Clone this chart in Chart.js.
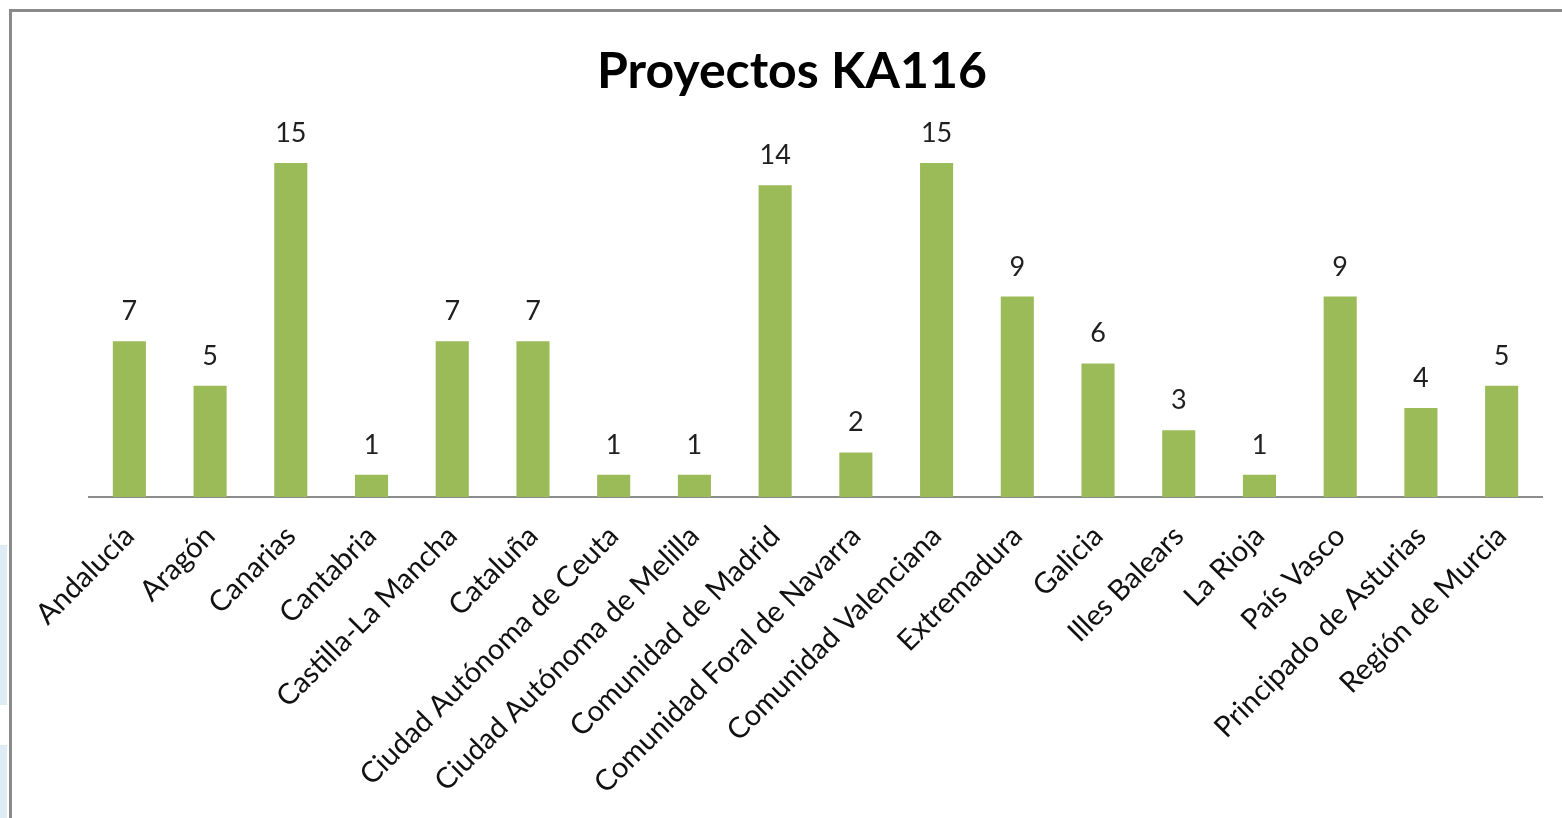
<!DOCTYPE html>
<html lang="es">
<head>
<meta charset="utf-8">
<title>Proyectos KA116</title>
<script src="https://cdn.jsdelivr.net/npm/chart.js@4.4.1/dist/chart.umd.min.js"></script>
<style>
  html, body { margin: 0; padding: 0; background: #fff; overflow: hidden; }
  #marco {
    position: absolute; left: 9px; top: 9px; width: 1600px; height: 900px;
    border-left: 3px solid #8a8a8a; border-top: 3px solid #8a8a8a;
  }
  .franja { position: absolute; left: 0; width: 7px; background: #deedf5; }
  #grafica { position: absolute; left: 0; top: 0; }
</style>
</head>
<body>
<div class="franja" style="top:545px;height:160px"></div>
<div class="franja" style="top:745px;height:73px"></div>
<div id="marco"></div>
<canvas id="grafica" width="1562" height="818"></canvas>
<script>
// Datos del gráfico
const tituloGrafico = "Proyectos KA116";
const comunidades = [
  "Andalucía", "Aragón", "Canarias", "Cantabria", "Castilla-La Mancha",
  "Cataluña", "Ciudad Autónoma de Ceuta", "Ciudad Autónoma de Melilla",
  "Comunidad de Madrid", "Comunidad Foral de Navarra", "Comunidad Valenciana",
  "Extremadura", "Galicia", "Illes Balears", "La Rioja", "País Vasco",
  "Principado de Asturias", "Región de Murcia"
];
const proyectos = [7, 5, 15, 1, 7, 7, 1, 1, 14, 2, 15, 9, 6, 3, 1, 9, 4, 5];

Chart.defaults.font.family = "Lato, 'Liberation Sans', sans-serif";

// Título centrado sobre la página (no sobre el área del gráfico)
const titulo = {
  id: "titulo",
  afterDraw(chart) {
    const ctx = chart.ctx;
    ctx.save();
    ctx.font = "bold 50px Lato";
    ctx.fillStyle = "#000";
    ctx.textAlign = "center";
    ctx.textBaseline = "alphabetic";
    ctx.fillText(tituloGrafico, 792, 88);
    ctx.restore();
  }
};

// Valores encima de cada barra
const etiquetasValor = {
  id: "etiquetasValor",
  afterDatasetsDraw(chart) {
    const ctx = chart.ctx;
    ctx.save();
    ctx.font = "27px Lato";
    ctx.fillStyle = "#1f1f1f";
    ctx.textAlign = "center";
    ctx.textBaseline = "alphabetic";
    chart.getDatasetMeta(0).data.forEach((bar, i) => {
      ctx.fillText(proyectos[i], bar.x, bar.y - 21);
    });
    ctx.restore();
  }
};

new Chart(document.getElementById("grafica"), {
  type: "bar",
  data: {
    labels: comunidades,
    datasets: [{
      label: tituloGrafico,
      data: proyectos,
      backgroundColor: "#9bbb59",
      barPercentage: 0.41,
      categoryPercentage: 1
    }]
  },
  options: {
    responsive: false,
    animation: false,
    layout: { padding: { left: 89, right: 20, top: 163, bottom: 0 } },
    plugins: {
      legend: { display: false },
      title: { display: false },
      tooltip: { enabled: false }
    },
    scales: {
      y: { display: false, min: 0, max: 15 },
      x: {
        afterFit: scale => { scale.height = 321; },
        grid: { display: false, drawTicks: false },
        border: { display: true, color: "#8c8c8c", width: 2 },
        ticks: {
          autoSkip: false,
          minRotation: 45,
          maxRotation: 45,
          padding: 22,
          color: "#111",
          font: { size: 29 }
        }
      }
    }
  },
  plugins: [titulo, etiquetasValor]
});
</script>
</body>
</html>
